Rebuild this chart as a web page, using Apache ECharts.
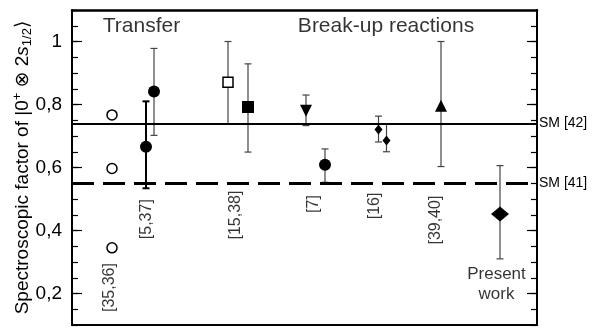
<!DOCTYPE html>
<html>
<head>
<meta charset="utf-8">
<script src="https://cdn.jsdelivr.net/npm/echarts@6/dist/echarts.min.js"></script>
<style>
  html, body { margin: 0; padding: 0; background: #fff; }
  #chart { width: 594px; height: 329px; }
</style>
</head>
<body>
<div id="chart"></div>
<script>
// x is an arbitrary position along the frame (no x scale in the figure)
const openCircle = [[8, 0.767], [8, 0.597], [8, 0.345]];
const filledCircle = [[14.8, 0.666], [16.4, 0.841], [50.6, 0.609]];
const openSquare = [[31.2, 0.871]];
const filledSquare = [[35.2, 0.792]];
const downTriangle = [[46.8, 0.78]];
const upTriangle = [[73.8, 0.796]];
const smallDiamond = [[61.3, 0.721], [62.9, 0.686]];
const presentWork = [[85.6, 0.452]];

// [x, low, high]
const thickErrors = [[14.8, 0.534, 0.81]];
const errors = [
  [16.4, 0.702, 0.978], [31.2, 0.739, 1.0], [35.2, 0.649, 0.929],
  [46.8, 0.733, 0.83], [50.6, 0.553, 0.659], [61.3, 0.681, 0.763],
  [62.9, 0.65, 0.739], [73.8, 0.603, 1.0], [85.6, 0.31, 0.606]
];

const smLines = [['SM [42]', 0.739, 'solid'], ['SM [41]', 0.551, 'dashed']];

// reference labels: [x, y, text]
const refLabels = [
  [7.6, 0.219, '[35,36]'], [15, 0.436, '[5,37]'], [32.8, 0.449, '[15,38]'],
  [48.4, 0.484, '[7]'], [60.6, 0.478, '[16]'], [72.8, 0.433, '[39,40]']
];
const presentLabel = [[84.9, 0.228, 'Present\nwork']];
const headers = [[13.9, 1.048, 'Transfer'], [62.8, 1.048, 'Break-up reactions']];

const yTicks = [0.2, 0.4, 0.6, 0.8, 1.0];

const FONT = 'Liberation Sans, Arial, DejaVu Sans, sans-serif';
const chart = echarts.init(document.getElementById('chart'));

const errorSeries = (data, width, color, cap) => ({
  type: 'custom',
  z: 2,
  silent: true,
  data,
  renderItem: (params, api) => {
    const top = api.coord([api.value(0), api.value(2)]);
    const bot = api.coord([api.value(0), api.value(1)]);
    const style = { stroke: color, lineWidth: width };
    return {
      type: 'group',
      children: [
        { type: 'line', shape: { x1: top[0], y1: top[1], x2: bot[0], y2: bot[1] }, style },
        { type: 'line', shape: { x1: top[0] - cap, y1: top[1], x2: top[0] + cap, y2: top[1] }, style },
        { type: 'line', shape: { x1: bot[0] - cap, y1: bot[1], x2: bot[0] + cap, y2: bot[1] }, style }
      ]
    };
  }
});

const marker = (data, symbol, size, filled, extra = {}) => ({
  type: 'scatter',
  z: 4,
  silent: true,
  data,
  symbol,
  symbolSize: size,
  itemStyle: {
    color: filled ? '#000' : '#fff',
    borderColor: '#000',
    borderWidth: filled ? 0 : 1.5,
    opacity: 1
  },
  ...extra
});

const textSeries = (data, rotate, fontSize, lineHeight) => ({
  type: 'scatter',
  z: 5,
  silent: true,
  symbolSize: 0,
  data: data.map(d => ({ value: [d[0], d[1]], name: d[2] })),
  label: {
    show: true,
    position: 'inside',
    formatter: p => p.name,
    rotate,
    fontSize,
    fontFamily: FONT,
    color: '#000',
    lineHeight: lineHeight || fontSize + 3
  }
});

const yBase = { type: 'value', min: 0.1, max: 1.1, gridIndex: 0 };

chart.setOption({
  animation: false,
  backgroundColor: '#fff',
  grid: { left: 72, right: 57, top: 10, bottom: 4, outerBoundsMode: 'none', containLabel: false },
  xAxis: [
    { type: 'value', min: 0, max: 93, position: 'bottom',
      axisLine: { show: true, lineStyle: { color: '#000', width: 2 } },
      axisTick: { show: false }, axisLabel: { show: false }, splitLine: { show: false } },
    { type: 'value', min: 0, max: 93, position: 'top',
      axisLine: { show: true, lineStyle: { color: '#000', width: 2.5 } },
      axisTick: { show: false }, axisLabel: { show: false }, splitLine: { show: false } }
  ],
  yAxis: [
    { ...yBase, position: 'left', interval: 0.05,
      name: 'Spectroscopic factor of |0{sup|+} ⊗ 2{it|s}{sub|1/2}⟩',
      nameLocation: 'middle', nameRotate: 90, nameGap: 38, nameMoveOverlap: false,
      nameTextStyle: {
        fontFamily: FONT, fontSize: 19, color: '#000',
        rich: {
          sup: { fontSize: 13, fontFamily: FONT, color: '#000', verticalAlign: 'top', padding: [0, 0, 10, 0] },
          it: { fontSize: 19, fontFamily: FONT, color: '#000', fontStyle: 'italic' },
          sub: { fontSize: 13, fontFamily: FONT, color: '#000', verticalAlign: 'bottom', padding: [7, 0, 0, 0] }
        }
      },
      axisLine: { show: true, lineStyle: { color: '#000', width: 2 } },
      axisTick: { show: true, inside: true, length: 6, lineStyle: { color: '#000', width: 1.2 } },
      axisLabel: {
        fontSize: 19, fontFamily: FONT, color: '#000', margin: 10,
        formatter: v => {
          const r = Math.round(v * 100);
          if (r % 20 !== 0) return '';
          return r === 100 ? '1' : (r / 100).toFixed(1).replace('.', ',');
        }
      },
      splitLine: { show: false } },
    { ...yBase, position: 'left',
      axisLine: { show: false },
      axisTick: { show: true, inside: true, length: 10, customValues: yTicks, lineStyle: { color: '#000', width: 1.2 } },
      axisLabel: { show: false }, splitLine: { show: false } },
    { ...yBase, position: 'right', interval: 0.05,
      axisLine: { show: true, lineStyle: { color: '#000', width: 2 } },
      axisTick: { show: true, inside: true, length: 6, lineStyle: { color: '#000', width: 1.2 } },
      axisLabel: { show: false }, splitLine: { show: false } },
    { ...yBase, position: 'right',
      axisLine: { show: false },
      axisTick: { show: true, inside: true, length: 10, customValues: yTicks, lineStyle: { color: '#000', width: 1.2 } },
      axisLabel: { show: false }, splitLine: { show: false } }
  ],
  series: [
    {
      type: 'line', data: [], silent: true,
      markLine: {
        silent: true,
        symbol: ['none', 'none'],
        data: smLines.map(([name, v, type]) => ({
          yAxis: v, name,
          lineStyle: { color: '#000', width: type === 'solid' ? 2 : 3, type: type === 'solid' ? 'solid' : [22, 9] }
        })),
        label: { show: true, position: 'end', formatter: p => p.name, fontSize: 14, fontFamily: FONT, color: '#000', distance: 2 }
      }
    },
    errorSeries(thickErrors, 2, '#000', 3.5),
    errorSeries(errors, 1.2, '#444', 3.5),
    marker(openCircle, 'circle', 10, false),
    marker(filledCircle, 'circle', 12, true),
    marker(openSquare, 'rect', 10, false),
    marker(filledSquare, 'rect', 12, true),
    marker(downTriangle, 'triangle', 12, true, { symbolRotate: 180 }),
    marker(upTriangle, 'triangle', 12, true),
    marker(smallDiamond, 'diamond', [8, 10], true),
    marker(presentWork, 'diamond', [18, 15], true),
    textSeries(refLabels, 90, 16),
    textSeries(presentLabel, 0, 17, 20),
    textSeries(headers, 0, 21)
  ]
});
</script>
</body>
</html>
